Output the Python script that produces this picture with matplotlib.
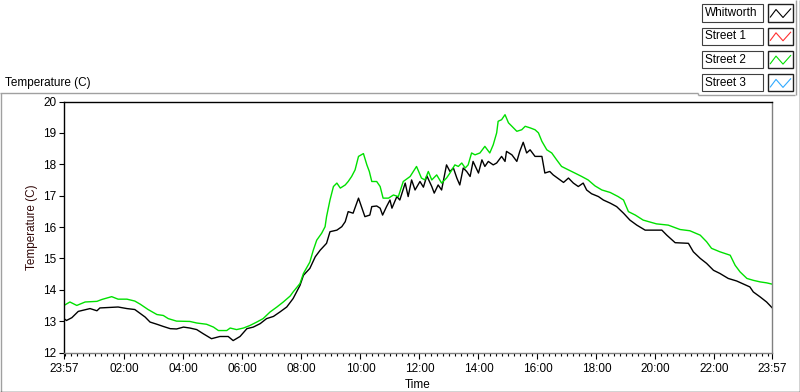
import matplotlib
matplotlib.use("Agg")
import matplotlib.pyplot as plt
from matplotlib.lines import Line2D
from matplotlib.patches import Rectangle
from datetime import datetime, timedelta

# minutes after the start of the window (23:57)
whit_min = [0, 5, 16, 29, 53, 67, 73, 110, 128, 144,
            151, 165, 175, 189, 202, 216, 229, 243, 256, 270,
            283, 300, 317, 334, 344, 358, 372, 385, 399, 412,
            426, 439, 453, 466, 480, 487, 500, 511, 521, 534,
            541, 555, 565, 572, 578, 588, 599, 606, 612, 622,
            626, 636, 643, 648, 656, 663, 667, 677, 683, 694,
            700, 707, 714, 724, 731, 738, 748, 753, 761, 768,
            778, 785, 792, 799, 805, 812, 819, 826, 832, 843,
            850, 856, 863, 873, 880, 890, 897, 900, 911, 921,
            927, 934, 941, 948, 958, 972, 978, 988, 995, 1009,
            1016, 1026, 1036, 1046, 1056, 1063, 1073, 1087, 1097, 1111,
            1124, 1138, 1151, 1165, 1182, 1216, 1226, 1243, 1270, 1280,
            1294, 1307, 1321, 1334, 1351, 1368, 1382, 1395, 1402, 1416,
            1429, 1440]
whit_temp = [13.08, 13.02, 13.11, 13.31, 13.40, 13.33, 13.42, 13.45, 13.40, 13.37,
             13.29, 13.13, 12.97, 12.90, 12.83, 12.76, 12.75, 12.81, 12.78, 12.73,
             12.60, 12.44, 12.51, 12.51, 12.38, 12.51, 12.76, 12.81, 12.92, 13.08,
             13.15, 13.29, 13.45, 13.72, 14.14, 14.46, 14.68, 15.05, 15.26, 15.48,
             15.85, 15.90, 16.01, 16.17, 16.49, 16.44, 16.92, 16.60, 16.33, 16.38,
             16.65, 16.67, 16.60, 16.38, 16.65, 16.86, 16.60, 16.97, 16.86, 17.40,
             16.97, 17.50, 17.18, 17.45, 17.27, 17.63, 17.29, 17.08, 17.34, 17.18,
             17.98, 17.77, 17.88, 17.56, 17.34, 17.88, 17.77, 17.61, 18.09, 17.72,
             18.14, 17.93, 18.09, 17.98, 18.04, 18.25, 18.09, 18.41, 18.30, 18.09,
             18.41, 18.70, 18.36, 18.46, 18.25, 18.25, 17.72, 17.77, 17.66, 17.50,
             17.42, 17.56, 17.40, 17.29, 17.40, 17.18, 17.06, 16.97, 16.86, 16.76,
             16.65, 16.44, 16.22, 16.06, 15.90, 15.90, 15.74, 15.50, 15.48, 15.21,
             15.00, 14.84, 14.62, 14.52, 14.36, 14.28, 14.18, 14.09, 13.93, 13.77,
             13.61, 13.43]

st2_min = [0, 12, 26, 43, 67, 77, 97, 110, 128, 144,
           155, 171, 189, 202, 212, 229, 256, 270, 290, 304,
           314, 331, 338, 351, 365, 378, 392, 405, 419, 433,
           446, 460, 466, 480, 487, 500, 507, 514, 524, 531,
           534, 541, 548, 555, 562, 572, 578, 585, 592, 599,
           609, 616, 621, 626, 636, 643, 649, 660, 670, 680,
           690, 704, 717, 727, 734, 741, 748, 758, 768, 778,
           785, 795, 802, 809, 816, 822, 829, 836, 846, 856,
           866, 873, 880, 883, 890, 897, 904, 911, 921, 931,
           938, 948, 958, 965, 972, 982, 992, 1002, 1012, 1026,
           1039, 1053, 1066, 1080, 1094, 1111, 1127, 1138, 1148, 1162,
           1178, 1205, 1229, 1253, 1273, 1294, 1307, 1317, 1334, 1355,
           1365, 1375, 1389, 1402, 1416, 1429, 1440]
st2_temp = [13.50, 13.61, 13.50, 13.61, 13.63, 13.69, 13.78, 13.70, 13.70, 13.64,
            13.54, 13.37, 13.21, 13.18, 13.08, 13.00, 12.99, 12.94, 12.90, 12.81,
            12.70, 12.70, 12.78, 12.73, 12.78, 12.86, 12.97, 13.08, 13.29, 13.45,
            13.61, 13.80, 13.93, 14.20, 14.52, 14.88, 15.26, 15.58, 15.80, 16.01,
            16.33, 16.86, 17.29, 17.40, 17.24, 17.34, 17.45, 17.61, 17.82, 18.25,
            18.34, 17.98, 17.77, 17.45, 17.45, 17.29, 16.92, 16.92, 17.02, 16.97,
            17.45, 17.61, 17.93, 17.56, 17.50, 17.77, 17.50, 17.66, 17.40, 17.56,
            17.72, 17.98, 17.93, 18.04, 17.88, 17.98, 18.36, 18.30, 18.36, 18.57,
            18.36, 18.62, 19.00, 19.37, 19.42, 19.58, 19.32, 19.21, 19.05, 19.10,
            19.21, 19.16, 19.10, 19.00, 18.73, 18.46, 18.36, 18.14, 17.93, 17.82,
            17.72, 17.61, 17.50, 17.31, 17.18, 17.10, 16.97, 16.86, 16.49, 16.38,
            16.22, 16.10, 16.06, 15.92, 15.88, 15.74, 15.53, 15.32, 15.21, 15.10,
            14.78, 14.57, 14.36, 14.30, 14.25, 14.22, 14.18]

series_names = ["Whitworth", "Street 1", "Street 2", "Street 3"]
series_colors = ["black", "#ff3030", "#00e000", "#30aaff"]

start = datetime(2000, 1, 1, 23, 57)
span = 1440
# major ticks: start, every even hour, end
major = [0] + [123 + 120 * k for k in range(11)] + [span]
major_labels = [(start + timedelta(minutes=m)).strftime("%H:%M") for m in major]
minor = [3 + 12 * k for k in range(120)]

plt.rcParams['font.family'] = ['Liberation Sans', 'DejaVu Sans']
plt.rcParams['font.size'] = 8

W, H = 800, 392
fig = plt.figure(figsize=(8, 3.92), dpi=100)
fig.patch.set_facecolor("white")

def fx(x):
    return x / W

def fy(y):
    return 1 - y / H

def fline(xs, ys, color, lw=1.0):
    fig.add_artist(Line2D([fx(x) for x in xs], [fy(y) for y in ys],
                          transform=fig.transFigure, color=color, lw=lw,
                          solid_capstyle="butt"))

# outer frame / legend panel
fline([0, 698], [92.5, 92.5], "#a0a0a0")
fline([698, 698], [92.5, 94.5], "#a0a0a0")
fline([698, 795], [94.5, 94.5], "#a0a0a0")
fline([795.5, 795.5], [0, 94.5], "#a0a0a0")
fline([0.5, 0.5], [92.5, 392], "#a0a0a0")
fline([0, 800], [391.5, 391.5], "#202020")
fline([799.5, 799.5], [0, 392], "#202020")

fig.text(fx(5), fy(83), "Temperature (C)", ha="left", va="center", fontsize=8.5)

# plot area
ax = fig.add_axes([fx(64), fy(352.5), (772 - 64) / W, (352.5 - 101.5) / H])
ax.plot(whit_min, whit_temp, color=series_colors[0], lw=1.0)
ax.plot(st2_min, st2_temp, color=series_colors[2], lw=1.0)
ax.set_xlim(0, span)
ax.set_ylim(12, 20)

for s in ["top", "left"]:
    ax.spines[s].set_color("black")
    ax.spines[s].set_linewidth(1.0)
for s in ["right", "bottom"]:
    ax.spines[s].set_color("#808080")
    ax.spines[s].set_linewidth(1.0)

ax.set_yticks(range(12, 21))
ax.tick_params(axis="y", direction="out", length=3.5, width=0.8, pad=2, labelsize=8.5)
ax.set_xticks(major)
ax.set_xticklabels(major_labels)
ax.set_xticks(minor, minor=True)
ax.tick_params(axis="x", which="major", direction="out", length=4, width=0.8, pad=3.5, labelsize=8.5)
ax.tick_params(axis="x", which="minor", direction="out", length=2.2, width=0.8)

ax.set_xlabel("Time", fontsize=8.5)
ax.xaxis.set_label_coords(0.5, -0.105)
ax.set_ylabel("Temperature (C)", fontsize=8.5, color="#300808")
ax.yaxis.set_label_coords(-0.037, 0.5)

# legend
for i, name in enumerate(series_names):
    top = 4.5 + i * 23.3
    h = 17
    fig.add_artist(Rectangle((fx(702), fy(top + h)), 61 / W, h / H,
                             transform=fig.transFigure, fill=False,
                             edgecolor="#404040", lw=0.8))
    fig.text(fx(705), fy(top + h / 2), name, ha="left", va="center", fontsize=8.5)
    fig.add_artist(Rectangle((fx(768), fy(top + h)), 25 / W, h / H,
                             transform=fig.transFigure, fill=False,
                             edgecolor="#202020", lw=1.0))
    fline([770, 776, 783, 791], [top + 13, top + 5, top + 13, top + 4],
          series_colors[i], lw=0.8)

fig.savefig("out.png", dpi=100)
